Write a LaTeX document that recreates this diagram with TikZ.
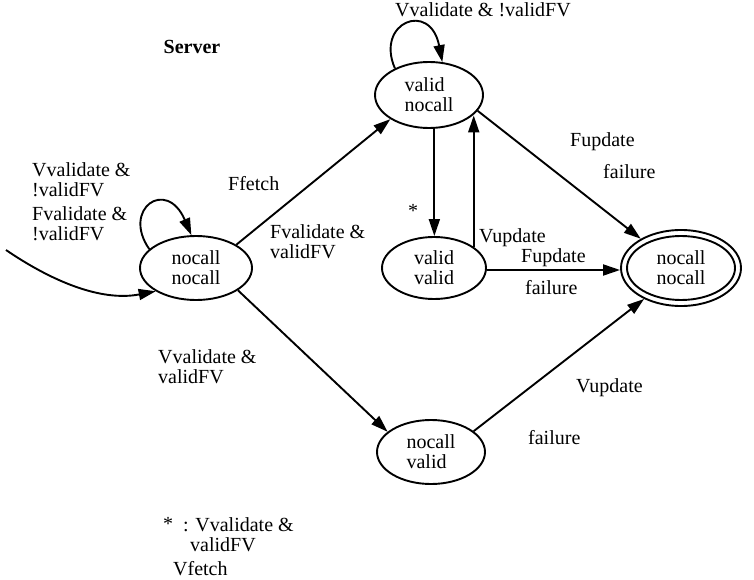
\documentclass[tikz,border=0pt]{standalone}
\usepackage{fontspec}
\setmainfont{Liberation Serif}
\usetikzlibrary{arrows.meta,shapes.geometric}

\begin{document}
\begin{tikzpicture}[x=1pt,y=-1pt,
  txt/.style={font=\fontsize{20}{20}\selectfont},
  state/.style={ellipse, draw, line width=1.9pt, inner sep=0pt, align=left, txt},
  lbl/.style={txt, inner sep=0pt, align=left, anchor=north west},
  edge/.style={line width=1.9pt, -{Triangle[length=17pt,width=11pt]}}]
\useasboundingbox (0,0) rectangle (754,580);

% states
\node[state, minimum width=112pt, minimum height=64pt] (A) at (196,268) {nocall\\nocall};
\node[state, minimum width=108pt, minimum height=66pt] (B) at (429,95) {valid\\nocall};
\node[state, minimum width=104pt, minimum height=62pt] (C) at (434,268) {valid\\valid};
\node[state, minimum width=108pt, minimum height=64pt] (D) at (681,268) {nocall\\nocall};
\node[ellipse, draw, line width=1.9pt, minimum width=120pt, minimum height=76pt] (Dout) at (D) {};
\node[state, minimum width=108pt, minimum height=64pt] (E) at (431,452) {nocall\\valid};

% initial transition
\coordinate (start) at (6,250);
\draw[edge] (start) .. controls (50,280) and (100,302) .. (A.210);

% self loops
\draw[edge] (A.158) .. controls +(-28,-40) and +(-25,-58) .. (A.98);
\draw[edge] (B.142) .. controls +(-20,-46) and +(-12,-62) .. (B.68);

% transitions
\draw[edge] (A.30) -- (B.212);
\draw[edge] (A.332) -- (E.155);
\draw[edge] (B.279) -- (B.279 |- C.north);
\draw[edge] (C.28) -- (C.28 |- B.335);
\draw[edge] (B.342) -- (Dout.144);
\draw[edge] (C.east |- 0,270) -- (Dout.west |- 0,270);
\draw[edge] (E.26) -- (Dout.220);

% labels
\node[txt, font=\fontsize{20}{20}\selectfont\bfseries, anchor=base] (title) at (192,54) {Server};
\node[lbl] (l1) at (32,162) {Vvalidate \&\\!validFV};
\node[lbl] (l2) at (32,206) {Fvalidate \&\\!validFV};
\node[lbl] (l3) at (228,176) {Ffetch};
\node[lbl] (l4) at (270,224) {Fvalidate \&\\validFV};
\node[lbl] (l5) at (158,349) {Vvalidate \&\\validFV};
\node[lbl] (l6) at (395,2) {Vvalidate \& !validFV};
\node[lbl] (l7) at (408,204) {*};
\node[lbl] (l8) at (479,228) {Vupdate};
\node[lbl] (l9) at (570,132) {Fupdate};
\node[lbl] (l10) at (603,164) {failure};
\node[lbl] (l11) at (521,248) {Fupdate};
\node[lbl] (l12) at (525,280) {failure};
\node[lbl] (l13) at (576,378) {Vupdate};
\node[lbl] (l14) at (528,430) {failure};
\node[lbl] (l15) at (163,517) {*};
\node[lbl] (l16) at (183,517) {: Vvalidate \&\\\hspace{7pt}validFV};
\node[lbl] (l17) at (173,561) {Vfetch};
\end{tikzpicture}
\end{document}
